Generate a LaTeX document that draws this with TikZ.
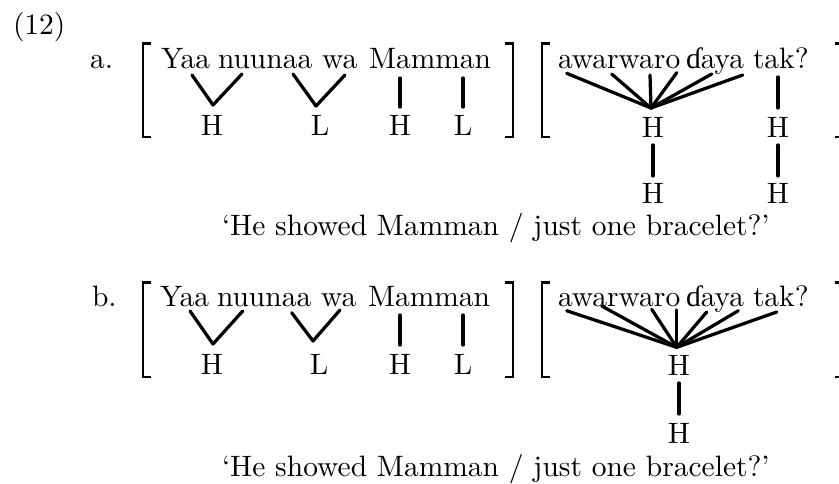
\documentclass[tikz,border=0pt]{standalone}
\usepackage{fontspec}
\setmainfont{Latin Modern Roman}
\newfontfamily\ipafont{Liberation Serif}
\newcommand{\hookd}{{\ipafont\char"0257}}
\begin{document}
\begin{tikzpicture}[x=0.339pt,y=-0.339pt,
  txt/.style={inner sep=0pt,outer sep=0pt,anchor=base west,font=\fontsize{10}{12}\selectfont},
  tone/.style={inner sep=0pt,outer sep=0pt,anchor=base,font=\fontsize{10}{12}\selectfont},
  assoc/.style={line width=1.1pt,line cap=round,line join=round},
  brk/.style={line width=0.75pt}]
\useasboundingbox (0,0) rectangle (839,483);
% ---- label
\node[txt] (num) at (13,34) {(12)};
% ================= row a
\node[txt] (la) at (90,68) {a.};
\node[txt] (a1) at (161,68) {Yaa};
\node[txt] (a2) at (218,68) {nuunaa};
\node[txt] (a3) at (322,68) {wa};
\node[txt] (a4) at (369,68) {Mamman};
\node[txt] (a5) at (558,68) {awarwaro};
\node[txt] (a6) at (686,68) {\hookd aya};
\node[txt] (a7) at (753,68) {tak?};
% brackets
\draw[brk] (150.5,43.5) -- (143.3,43.5) -- (143.3,136.7) -- (150.5,136.7);
\draw[brk] (505,43.5) -- (513.3,43.5) -- (513.3,136.7) -- (505,136.7);
\draw[brk] (549.5,43.5) -- (541.7,43.5) -- (541.7,136.7) -- (549.5,136.7);
\draw[brk] (835,43.5) -- (839,43.5);
\draw[brk] (835,136.7) -- (839,136.7);
% tones
\node[tone] (aH1) at (212,135) {H};
\node[tone] (aL1) at (320,135) {L};
\node[tone] (aH2) at (400,135) {H};
\node[tone] (aL2) at (463,135) {L};
\node[tone] (aH3) at (653,137) {H};
\node[tone] (aH4) at (778,137) {H};
\node[tone] (aH5) at (653,203) {H};
\node[tone] (aH6) at (778,203) {H};
\coordinate (av1) at (213,105);
\coordinate (av2) at (316,106);
\coordinate (av3) at (651,108);
\draw[assoc] (192,75) -- (av1) -- (242,74);
\draw[assoc] (293,74) -- (av2) -- (345,75);
\draw[assoc] (400,78) -- (400,107);
\draw[assoc] (463,78) -- (463,107);
\foreach \p in {(566.7,73.3),(611.7,74),(650,75),(676.7,72.7),(711.7,74),(742.7,75)}
  \draw[assoc] \p -- (av3);
\draw[assoc] (778,77) -- (778,108);
\draw[assoc] (aH3.south) ++(0,8) -- ++(0,31);
\draw[assoc] (aH4.south) ++(0,8) -- ++(0,31);
\node[txt] (ga) at (222,235) {`He showed Mamman / just one bracelet?'};
% ================= row b
\node[txt] (lb) at (92,306.5) {b.};
\node[txt] (b1) at (160,306.5) {Yaa};
\node[txt] (b2) at (217,306.5) {nuunaa};
\node[txt] (b3) at (321,306.5) {wa};
\node[txt] (b4) at (368,306.5) {Mamman};
\node[txt] (b5) at (558,306.5) {awarwaro};
\node[txt] (b6) at (686,306.5) {\hookd aya};
\node[txt] (b7) at (753,306.5) {tak?};
\draw[brk] (150.5,282.5) -- (143.3,282.5) -- (143.3,376.7) -- (150.5,376.7);
\draw[brk] (505,282.5) -- (513.3,282.5) -- (513.3,376.7) -- (505,376.7);
\draw[brk] (549.5,282.5) -- (541.7,282.5) -- (541.7,376.7) -- (549.5,376.7);
\draw[brk] (835,282.5) -- (839,282.5);
\draw[brk] (835,376.7) -- (839,376.7);
\node[tone] (bH1) at (212,374) {H};
\node[tone] (bL1) at (319,374) {L};
\node[tone] (bH2) at (400,374) {H};
\node[tone] (bL2) at (463,374) {L};
\node[tone] (bH3) at (679,375) {H};
\node[tone] (bH4) at (679,443) {H};
\coordinate (bv1) at (213,344);
\coordinate (bv2) at (313,341);
\coordinate (bv3) at (676.7,347.3);
\draw[assoc] (190,311) -- (bv1) -- (242.7,311);
\draw[assoc] (291.7,312.7) -- (bv2) -- (340,310);
\draw[assoc] (400,315) -- (400,345);
\draw[assoc] (463,315) -- (463,345);
\foreach \p in {(566.7,310.7),(601.7,306),(651.7,309.3),(676.7,310),(706.7,312),(738.3,310.7),(776.7,312)}
  \draw[assoc] \p -- (bv3);
\draw[assoc] (bH3.south) ++(0,8) -- ++(0,31);
\node[txt] (gb) at (222,476.5) {`He showed Mamman / just one bracelet?'};
\end{tikzpicture}
\end{document}
